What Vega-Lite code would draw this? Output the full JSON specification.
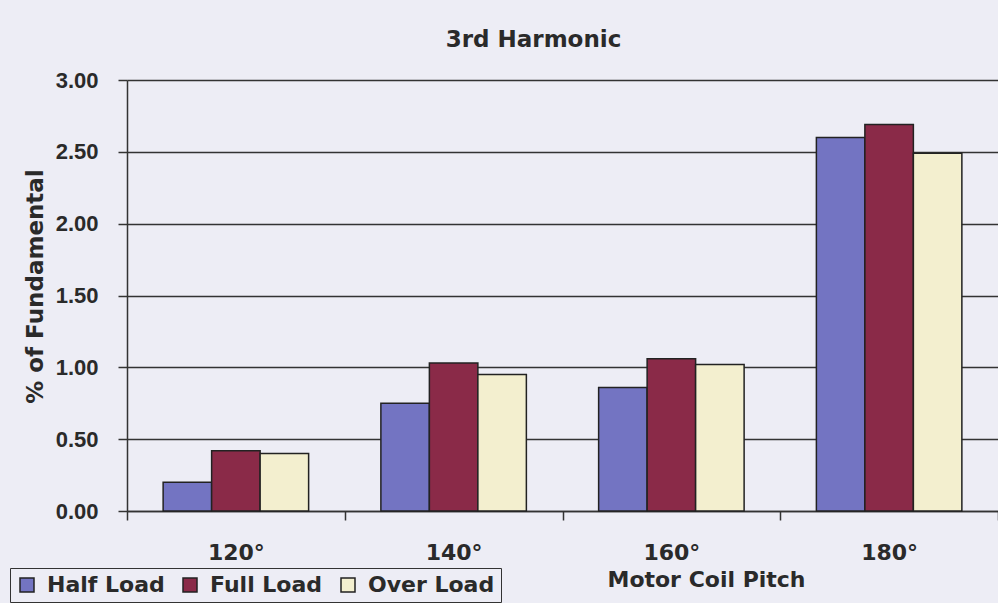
{
  "$schema": "https://vega.github.io/schema/vega-lite/v6.json",
  "autosize": "none",
  "width": 871,
  "height": 431,
  "padding": {"left": 127, "top": 80, "right": 0, "bottom": 92},
  "background": "#ededf5",
  "title": {
    "text": "3rd Harmonic",
    "font": "DejaVu Sans",
    "fontWeight": "bold",
    "fontSize": 23,
    "color": "#2a2a2a",
    "anchor": "middle",
    "frame": "group",
    "dx": -29,
    "offset": 17
  },
  "data": {
    "values": [
      {"pitch": "120°", "load": "Half Load", "value": 0.20},
      {"pitch": "120°", "load": "Full Load", "value": 0.42},
      {"pitch": "120°", "load": "Over Load", "value": 0.40},
      {"pitch": "140°", "load": "Half Load", "value": 0.75},
      {"pitch": "140°", "load": "Full Load", "value": 1.03},
      {"pitch": "140°", "load": "Over Load", "value": 0.95},
      {"pitch": "160°", "load": "Half Load", "value": 0.86},
      {"pitch": "160°", "load": "Full Load", "value": 1.06},
      {"pitch": "160°", "load": "Over Load", "value": 1.02},
      {"pitch": "180°", "load": "Half Load", "value": 2.60},
      {"pitch": "180°", "load": "Full Load", "value": 2.69},
      {"pitch": "180°", "load": "Over Load", "value": 2.49}
    ]
  },
  "mark": {"type": "bar", "stroke": "#222222", "strokeWidth": 1.5},
  "encoding": {
    "x": {
      "field": "pitch",
      "type": "nominal",
      "sort": ["120°", "140°", "160°", "180°"],
      "scale": {"paddingInner": 0, "paddingOuter": 0},
      "axis": {
        "title": "Motor Coil Pitch",
        "titleFont": "DejaVu Sans",
        "titleFontWeight": "bold",
        "titleFontSize": 22,
        "titleColor": "#2a2a2a",
        "titleX": 579,
        "titleY": 58,
        "titleAlign": "center",
        "titleBaseline": "top",
        "labelFont": "DejaVu Sans",
        "labelFontWeight": "bold",
        "labelFontSize": 22,
        "labelColor": "#2a2a2a",
        "labelAngle": 0,
        "labelPadding": 22,
        "tickBand": "extent",
        "tickSize": 9,
        "tickColor": "#333333",
        "tickWidth": 1.5,
        "domainColor": "#333333",
        "domainWidth": 1.5,
        "grid": false
      }
    },
    "xOffset": {
      "field": "load",
      "type": "nominal",
      "sort": ["Half Load", "Full Load", "Over Load"],
      "scale": {"paddingInner": 0, "paddingOuter": 0.745}
    },
    "y": {
      "field": "value",
      "type": "quantitative",
      "scale": {"domain": [0, 3], "nice": false},
      "axis": {
        "title": "% of Fundamental",
        "titleFont": "DejaVu Sans",
        "titleFontWeight": "bold",
        "titleFontSize": 23,
        "titleColor": "#2a2a2a",
        "titleX": -80,
        "titleY": 206,
        "values": [0, 0.5, 1, 1.5, 2, 2.5, 3],
        "format": ".2f",
        "labelFont": "Liberation Sans",
        "labelFontWeight": "bold",
        "labelFontSize": 22,
        "labelColor": "#2a2a2a",
        "labelPadding": 20,
        "tickSize": 9,
        "tickColor": "#333333",
        "tickWidth": 1.5,
        "domainColor": "#333333",
        "domainWidth": 1.5,
        "grid": true,
        "gridColor": "#333333",
        "gridWidth": 1.5
      }
    },
    "color": {
      "field": "load",
      "type": "nominal",
      "scale": {
        "domain": ["Half Load", "Full Load", "Over Load"],
        "range": ["#7374c2", "#8a2a48", "#f3efcf"]
      },
      "legend": {
        "title": null,
        "orient": "none",
        "direction": "horizontal",
        "legendX": -117,
        "legendY": 488,
        "padding": 6,
        "strokeColor": "#333333",
        "fillColor": "#ededf5",
        "symbolType": "square",
        "symbolSize": 196,
        "symbolStrokeColor": "#222222",
        "symbolStrokeWidth": 1.5,
        "symbolOpacity": 1,
        "labelFont": "DejaVu Sans",
        "labelFontWeight": "bold",
        "labelFontSize": 22,
        "labelColor": "#2a2a2a",
        "labelOffset": 9,
        "columnPadding": 14,
        "labelLimit": 300
      }
    }
  },
  "config": {"view": {"stroke": null}}
}
